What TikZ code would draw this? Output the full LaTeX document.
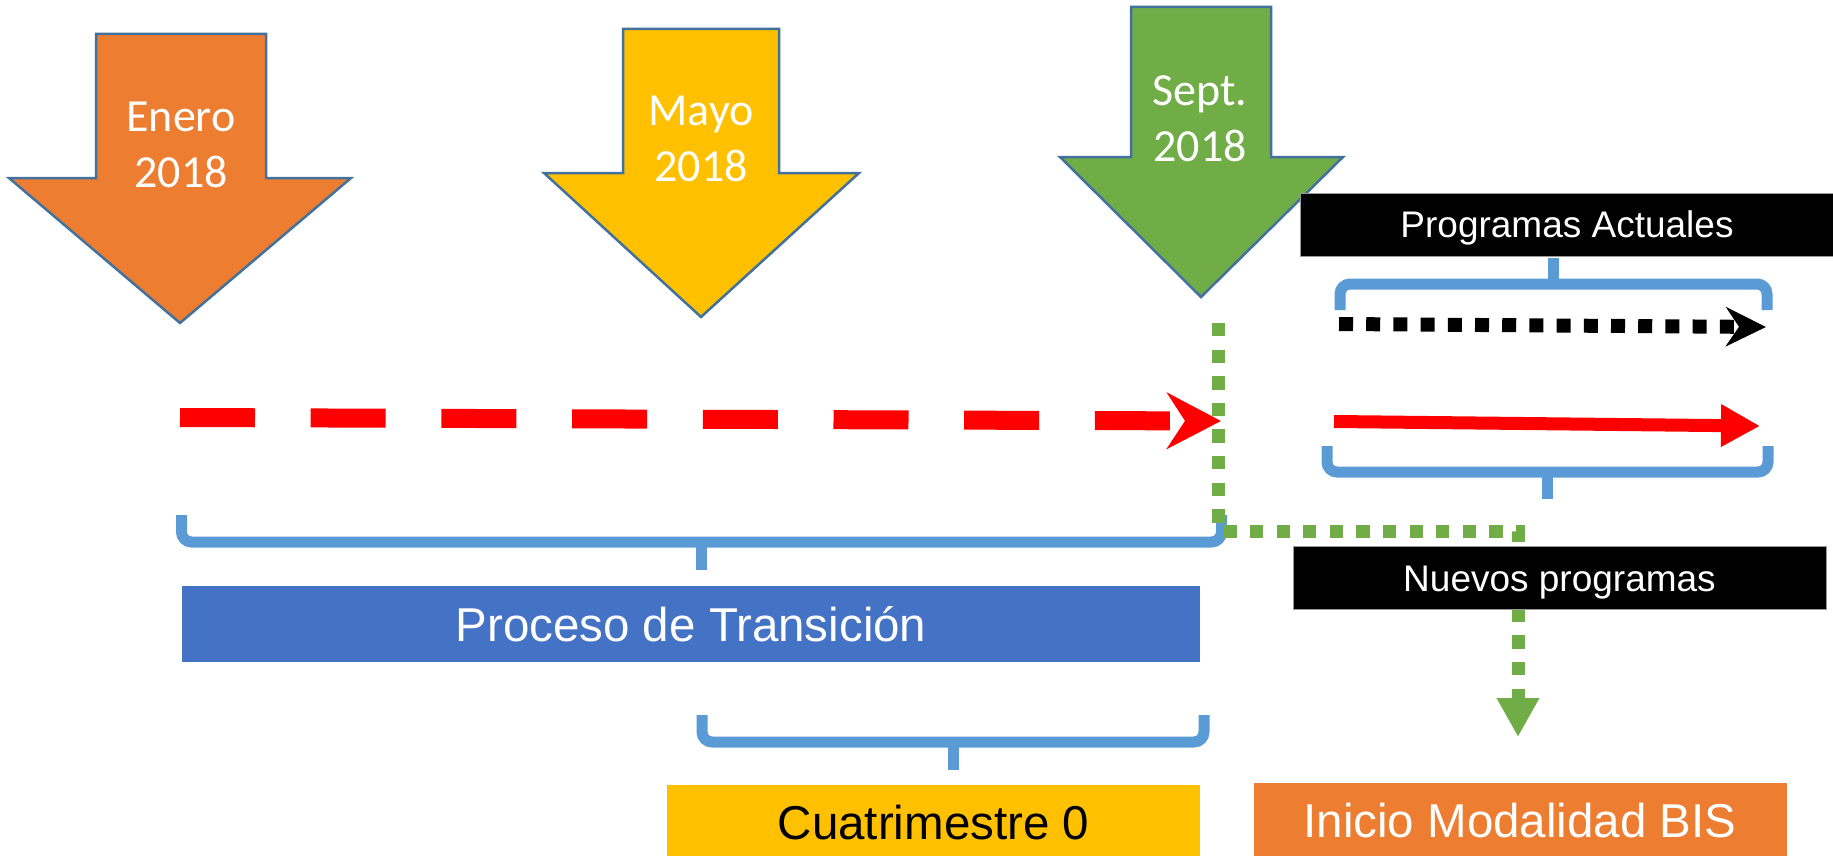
\documentclass[tikz,border=0pt]{standalone}
\usepackage{fontspec}
\newfontfamily\carl{Carlito}
\newfontfamily\arl{Liberation Sans}
\usetikzlibrary{arrows.meta}
\definecolor{cOrange}{HTML}{ED7D31}
\definecolor{cYellow}{HTML}{FFC000}
\definecolor{cGreen}{HTML}{70AD47}
\definecolor{cBlue}{HTML}{4472C4}
\definecolor{cBrace}{HTML}{5B9BD5}
\definecolor{cEdge}{HTML}{41719C}
\definecolor{cRed}{HTML}{FF0000}
\begin{document}
\begin{tikzpicture}[x=1pt,y=-1pt,
  bigarrow/.style={draw=cEdge, line width=2.5pt, line join=miter},
  datelbl/.style={font=\carl\fontsize{46}{56}\selectfont, text=white, align=center, inner sep=0pt},
  bracestyle/.style={draw=cBrace, line width=11pt, rounded corners=10pt, line cap=butt},
  bracetip/.style={draw=cBrace, line width=11pt, line cap=butt},
  boxnode/.style={inner sep=0pt, minimum width=533pt, text depth=0pt},
  blackbox/.style={boxnode, fill=black, draw=black!40, line width=1pt, text=white,
    minimum height=63pt, font=\arl\fontsize{37}{37}\selectfont, text height=26.5pt},
  bigbox/.style={boxnode, minimum height=75pt, font=\arl\fontsize{47.5}{47.5}\selectfont, text height=34pt}
]
\useasboundingbox (0,0) rectangle (1833,856);

% braces
\draw[bracestyle] (1340,310) -- (1340,284) -- (1767,284) -- (1767,310);
\draw[bracetip] (1553,286) -- (1553,258);
\draw[bracestyle] (1327,446) -- (1327,472) -- (1768,472) -- (1768,446);
\draw[bracetip] (1547,470) -- (1547,499);
\draw[bracestyle] (181.5,515) -- (181.5,542) -- (1221.5,542) -- (1221.5,515);
\draw[bracetip] (701.5,540) -- (701.5,570);
\draw[bracestyle] (702,715) -- (702,742) -- (1204,742) -- (1204,715);
\draw[bracetip] (953,740) -- (953,770);

% connector end points
\coordinate (rdS) at (180,417.5);
\coordinate (rdE) at (1221,421);
\coordinate (bkS) at (1339,324);
\coordinate (bkE) at (1766,327);
\coordinate (rsS) at (1334,421.5);
\coordinate (rsE) at (1760,426);
\coordinate (g1) at (1218.5,323);
\coordinate (g2) at (1218.5,531);
\coordinate (g3) at (1518,531);
\coordinate (g4) at (1518,737);

% red dashed arrow
\draw[cRed, line width=19pt, dash pattern=on 75pt off 55.7pt,
  -{Stealth[length=54pt,width=56pt,inset=18pt]}] (rdS) -- (rdE);
% black dotted arrow
\draw[black, line width=14pt, dash pattern=on 14pt off 13.2pt,
  -{Stealth[length=40pt,width=39pt,inset=13pt]}] (bkS) -- (bkE);
% red solid arrow
\draw[cRed, line width=13pt, -{Triangle[length=39pt,width=40pt]}] (rsS) -- (rsE);

% big down arrows
\draw[bigarrow, fill=cOrange] (96,34) -- (266,34) -- (266,178) -- (351,178) -- (180,323) -- (9,178) -- (96,178) -- cycle;
\draw[bigarrow, fill=cYellow] (623,29) -- (779,29) -- (779,173) -- (859,173) -- (701,317) -- (544,173) -- (623,173) -- cycle;
\draw[bigarrow, fill=cGreen] (1131,7) -- (1271,7) -- (1271,157) -- (1343,157) -- (1201,297) -- (1060,157) -- (1131,157) -- cycle;
\node[datelbl] (enero) at (181,144.5) {Enero\\2018};
\node[datelbl] (mayo) at (701,139) {Mayo\\2018};
\node[datelbl] (sept) at (1200,119) {Sept.\\2018};

% green dotted connector
\draw[cGreen, line width=13pt, dash pattern=on 13.3pt off 13.3pt,
  -{Triangle[length=39pt,width=40pt]}] (g1) -- (g2) -- (g3) -- (g4);

% boxes
\node[blackbox] (actuales) at (1567,224.5) {Programas Actuales};
\node[blackbox] (nuevos) at (1559.5,578) {Nuevos programas};
\node[bigbox, fill=cBlue, text=white, minimum width=1018pt, minimum height=76pt] (proceso) at (691,624) {Proceso de Transición};
\node[bigbox, fill=cYellow, text=black] (cuatri) at (933.5,822) {Cuatrimestre 0};
\node[bigbox, fill=cOrange, text=white] (inicio) at (1520,820.5) {Inicio Modalidad BIS};
\end{tikzpicture}
\end{document}
